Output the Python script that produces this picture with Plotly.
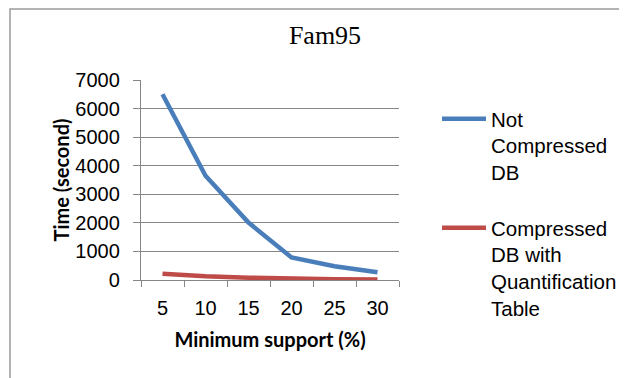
import plotly.graph_objects as go

support = ["5", "10", "15", "20", "25", "30"]
not_compressed = [6500, 3650, 2010, 790, 480, 270]
compressed_qt = [220, 130, 80, 35, 22, 15]
y_ticks = [0, 1000, 2000, 3000, 4000, 5000, 6000, 7000]

W, H = 627, 378
O = 8  # page body margin offset
L, R, T, B = 141 - O, 399 - O, 80 - O, 280.5 - O


def px(x):
    return (x - O - L) / (R - L)


def py(y):
    return (B - (y - O)) / (B - T)


fig = go.Figure()
fig.add_trace(go.Scatter(
    x=support, y=not_compressed, mode="lines",
    name="Not<br>Compressed<br>DB",
    line=dict(color="#4A7EBB", width=4.5),
    legendgroup="a",
))
fig.add_trace(go.Scatter(
    x=support, y=compressed_qt, mode="lines",
    name="Compressed<br>DB with<br>Quantification<br>Table",
    line=dict(color="#BE4B48", width=4.5),
    legendgroup="b",
))

grid = "#868686"
fig.update_layout(
    width=W, height=H,
    margin=dict(l=L, r=W - R, t=T, b=H - B, pad=0, autoexpand=False),
    paper_bgcolor="white", plot_bgcolor="white",
    title=dict(text="Fam95", x=(325 - O) / W, xanchor="center", y=1 - (35 - O) / H, yanchor="middle",
               font=dict(family="Liberation Serif, Times New Roman, serif", size=26, color="black")),
    font=dict(family="Liberation Sans, Arial, sans-serif", color="black"),
    showlegend=True,
    legend=dict(x=px(437), xanchor="left", y=py(99), yanchor="top",
                valign="top", font=dict(size=20.5, family="Liberation Sans, Arial, sans-serif"),
                tracegroupgap=26, itemwidth=44, bgcolor="rgba(0,0,0,0)", maxheight=320),
    xaxis=dict(
        type="category", range=[-0.5, 5.5], tickson="boundaries",
        ticks="outside", ticklen=6, tickcolor=grid, tickwidth=1.3,
        showline=True, linecolor=grid, linewidth=1.3, showgrid=False,
        tickfont=dict(size=20), ticklabelstandoff=10,
        title=dict(text="<b>Minimum support (%)</b>", standoff=14,
                   font=dict(family="Lato, Calibri, sans-serif", size=20)),
        zeroline=False,
    ),
    yaxis=dict(
        range=[0, 7000], tickvals=y_ticks, ticks="outside", ticklen=7, tickcolor=grid, tickwidth=1.3,
        showline=True, linecolor=grid, linewidth=1.3, showgrid=True, gridcolor=grid, gridwidth=1.3,
        tickfont=dict(size=20), ticklabelstandoff=9, zeroline=False,
        title=dict(text="<b>Time (second)</b>", standoff=0,
                   font=dict(family="Lato, Calibri, sans-serif", size=20)),
    ),
    shapes=[dict(type="rect", xref="paper", yref="paper",
                 x0=px(10), x1=px(720), y0=py(420), y1=(B - 0.8) / (B - T),
                 line=dict(color="#9a9a9a", width=1.5), fillcolor="rgba(0,0,0,0)", layer="below")],
)

fig.write_html("out.html")
